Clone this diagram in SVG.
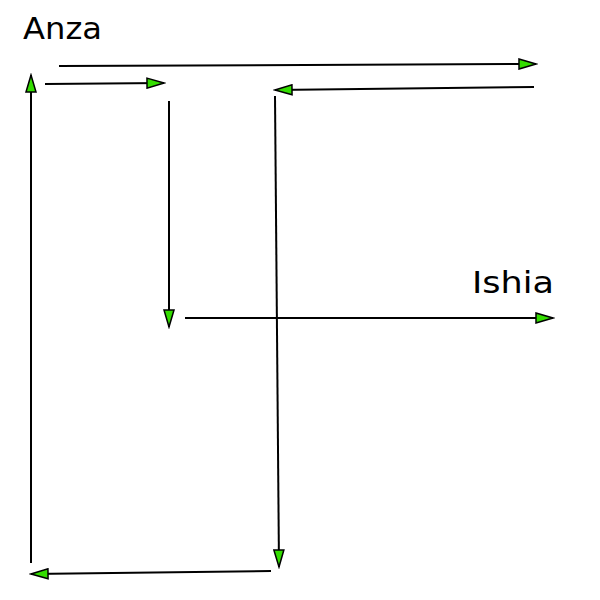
<svg xmlns="http://www.w3.org/2000/svg" width="600" height="600" viewBox="0 0 600 600">
<style>
.c{stroke:#000;stroke-width:2;fill:none;marker-end:url(#ah)}
.t{font-family:"DejaVu Sans",sans-serif;font-size:30px;fill:#000}
</style>
<defs>
<marker id="ah" viewBox="-1 -1 20 12" refX="17" refY="5" markerWidth="20" markerHeight="12" markerUnits="userSpaceOnUse" orient="auto">
<path d="M0,0 L17,5 L0,10 z" fill="#33dd00" stroke="#000" stroke-width="1.5"/>
</marker>
</defs>
<rect width="600" height="600" fill="#fff"/>
<g id="anza"><text class="t" x="23" y="39" textLength="79" lengthAdjust="spacingAndGlyphs">Anza</text></g>
<g id="ishia"><text class="t" x="472" y="293" textLength="82" lengthAdjust="spacingAndGlyphs">Ishia</text></g>
<g id="connectors">
<line class="c" x1="59" y1="66" x2="536" y2="64"/>
<line class="c" x1="45" y1="84" x2="164" y2="83"/>
<line class="c" x1="534" y1="87" x2="275" y2="90"/>
<line class="c" x1="169" y1="101" x2="169" y2="327"/>
<line class="c" x1="185" y1="318" x2="553" y2="318"/>
<line class="c" x1="275" y1="96" x2="279" y2="567"/>
<line class="c" x1="271" y1="571" x2="31" y2="574"/>
<line class="c" x1="31" y1="563" x2="31" y2="75"/>
</g>
</svg>
